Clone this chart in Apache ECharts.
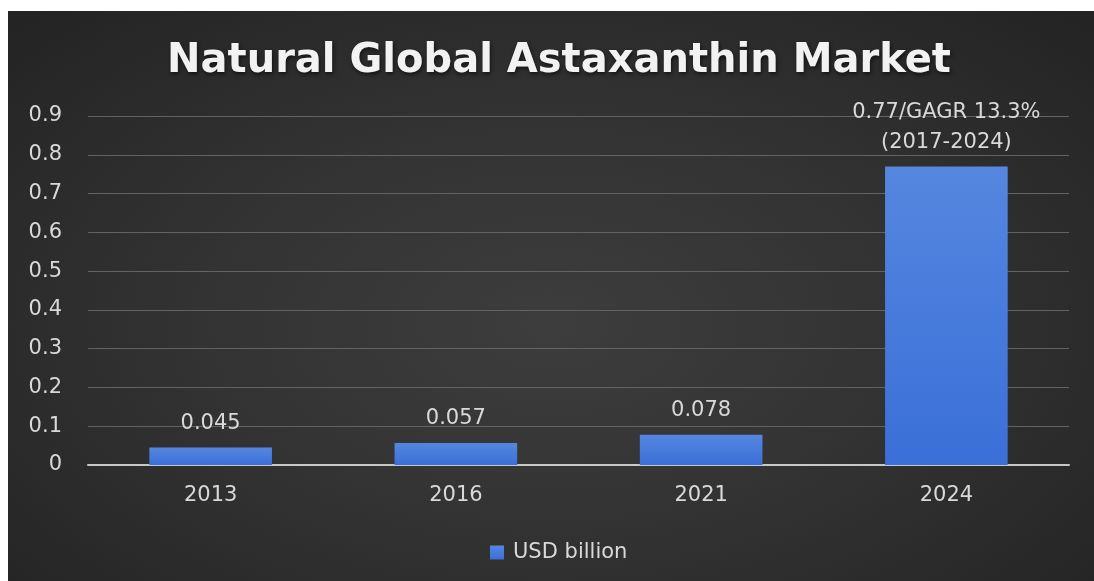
<!DOCTYPE html>
<html><head><meta charset="utf-8">
<script src="https://cdn.jsdelivr.net/npm/echarts@6/dist/echarts.min.js"></script>
<style>
html,body{margin:0;padding:0;background:#fff;}
#wrap{position:absolute;left:0;top:0;width:1094px;height:581px;background:#fff;}
#panel{position:absolute;left:8px;top:11px;width:1086px;height:570px;
background:radial-gradient(ellipse at 50% 55%, #3d3d3d 0%, #333333 45%, #232323 100%);}
#chart{position:absolute;left:0;top:0;width:1094px;height:581px;}
</style></head>
<body><div id="wrap"><div id="panel"></div><div id="chart"></div></div>
<script>
const categories = ['2013', '2016', '2021', '2024'];
const values = [0.045, 0.057, 0.078, 0.77];
const barLabels = ['0.045', '0.057', '0.078', '0.77/GAGR 13.3%\n(2017-2024)'];
const yTicks = [0, 0.1, 0.2, 0.3, 0.4, 0.5, 0.6, 0.7, 0.8, 0.9];
const seriesName = 'USD billion';
const titleText = 'Natural Global Astaxanthin Market';

const chart = echarts.init(document.getElementById('chart'), null, {renderer: 'canvas'});
const font = '"DejaVu Sans", "Noto Sans", sans-serif';
chart.setOption({
  backgroundColor: 'transparent',
  animation: false,
  title: {
    text: titleText, left: 554, textAlign: 'center', top: 37,
    textStyle: {color: '#f2f2f2', fontSize: 40, fontWeight: 'bold', fontFamily: font,
      textShadowColor: 'rgba(0,0,0,0.6)', textShadowBlur: 4, textShadowOffsetX: 1, textShadowOffsetY: 2}
  },
  legend: {
    data: [seriesName], top: 537, left: 485,
    itemWidth: 14, itemHeight: 14, icon: 'rect', itemGap: 6,
    textStyle: {color: '#d9d9d9', fontSize: 21, fontFamily: font, padding: [0, 0, 0, 4]}
  },
  grid: {left: 88, right: 25, top: 116, bottom: 116},
  xAxis: {
    type: 'category', data: categories,
    axisLine: {lineStyle: {color: '#c8c8c8', width: 2}},
    axisTick: {show: false},
    axisLabel: {color: '#d9d9d9', fontSize: 21, fontFamily: font, margin: 20}
  },
  yAxis: {
    type: 'value', min: 0, max: 0.9, interval: 0.1,
    axisLine: {show: false}, axisTick: {show: false},
    axisLabel: {color: '#d9d9d9', fontSize: 21, fontFamily: font, margin: 26,
      formatter: v => { const t = yTicks.find(x => Math.abs(x - v) < 1e-9); return t === undefined ? '' : String(t); }},
    splitLine: {lineStyle: {color: '#636363', width: 1}}
  },
  series: [{
    name: seriesName, type: 'bar', data: values, barWidth: '50%',
    itemStyle: {color: new echarts.graphic.LinearGradient(0, 0, 0, 1, [
      {offset: 0, color: '#5587df'}, {offset: 1, color: '#3a6fd8'}])},
    label: {show: true, position: 'top', distance: 9, color: '#d9d9d9', fontSize: 21,
      fontFamily: font, lineHeight: 30,
      formatter: p => barLabels[p.dataIndex]}
  }]
});
</script></body></html>
